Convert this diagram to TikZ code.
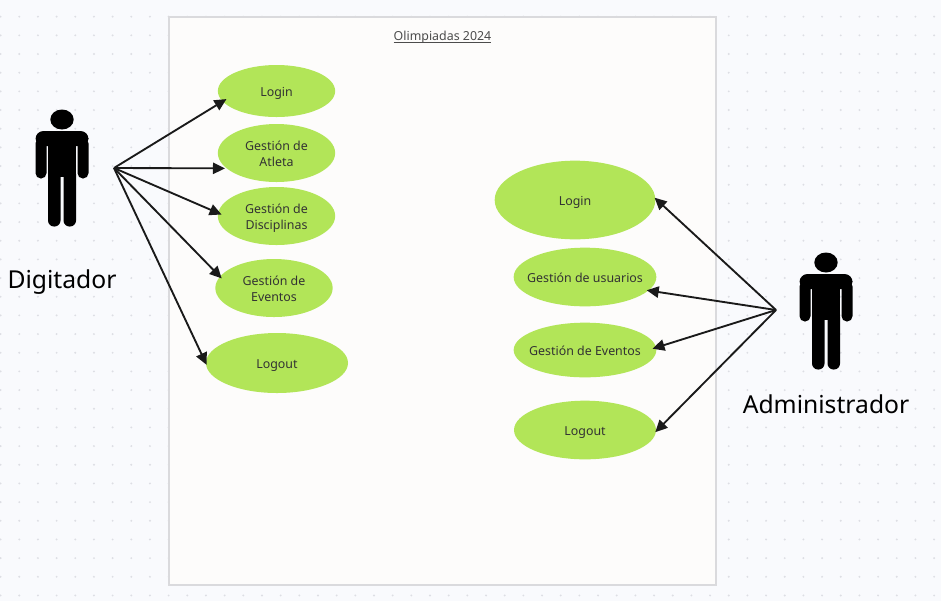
\documentclass[tikz,border=0pt]{standalone}
\usepackage{fontspec}
\setmainfont{Noto Sans}
\usetikzlibrary{shapes.geometric,arrows.meta}
\definecolor{fondo}{HTML}{F9FAFD}
\definecolor{punto}{HTML}{DDDEE4}
\definecolor{marco}{HTML}{DADADD}
\definecolor{papel}{HTML}{FDFCFB}
\definecolor{verde}{HTML}{B2E558}
\definecolor{linea}{HTML}{1A1A1A}

\tikzset{
	casoUso/.style =
	{shape = ellipse,
		fill = verde,
		inner ysep = 0pt,
		inner xsep = -10pt,
		align = center,
		text height = 8.5pt,
		text depth = 0pt,
		text = black!80,
		font = \fontsize{9.3pt}{12.4pt}\selectfont},
	casoDoble/.style = {casoUso, text height = 20.5pt},
	enlace/.style =
	{draw = linea,
		line width = 1.4pt,
		-{Triangle[length=9pt,width=8.5pt]}},
	rotulo/.style = {text depth = 0pt, font = \fontsize{18.5pt}{22pt}\selectfont},
	actor/.pic = {
		\fill[black] (0,-48.5) ellipse [x radius=11.7, y radius=10];
		\fill[black, rounded corners=6pt] (-26.5,-37) rectangle (26.5,-22);
		\fill[black, rounded corners=4pt] (-26.5,-30) rectangle (-15.5,10.5);
		\fill[black, rounded corners=4pt] (15.5,-30) rectangle (26.5,10.5);
		\fill[black] (-14,-37) rectangle (14,9);
		\fill[black, rounded corners=4.5pt] (-14,0) rectangle (-1.5,58.5);
		\fill[black, rounded corners=4.5pt] (1.5,0) rectangle (14,58.5);
	}
}

\begin{document}
\begin{tikzpicture}[x=0.75pt,y=-0.75pt]
\useasboundingbox (0,0) rectangle (941,601);
\fill[fondo] (0,0) rectangle (941,601);
% puntos del fondo
\foreach \i in {0,...,50}
	\foreach \j in {0,...,32}
		\fill[punto] (0.6+18.67*\i,-2+18.67*\j) circle (0.8pt);
\draw[marco, line width=1.5pt, fill=papel] (169,17) rectangle (716,585);
\node[text=black!70, font=\fontsize{9.3pt}{12pt}\selectfont] (titulo) at (442.5,42) {\underline{\smash{Olimpiadas 2024}}};

\pic at (62,168) {actor};
\pic at (826,311) {actor};
\node[rotulo] (digitador) at (62,279) {Digitador};
\node[rotulo] (administrador) at (826,404) {Administrador};
\coordinate (origenA) at (114,168);
\coordinate (origenB) at (776,310);

\node[casoUso, minimum width=88pt, minimum height=39pt] (login) at (276.5,91) {Login};
\node[casoDoble, minimum width=88pt, minimum height=43.5pt] (atleta) at (276.5,153) {Gestión de\\Atleta};
\node[casoDoble, minimum width=88pt, minimum height=43.5pt] (disciplinas) at (276.5,216) {Gestión de\\Disciplinas};
\node[casoDoble, minimum width=88pt, minimum height=43.5pt] (eventos) at (274,288) {Gestión de\\Eventos};
\node[casoUso, minimum width=106.5pt, minimum height=45pt] (logout) at (277,363) {Logout};

\node[casoUso, minimum width=120.5pt, minimum height=59pt] (loginB) at (575,200) {Login};
\node[casoUso, minimum width=107pt, minimum height=44pt] (usuariosB) at (585,277) {Gestión de usuarios};
\node[casoUso, minimum width=107pt, minimum height=41pt] (eventosB) at (585,350) {Gestión de Eventos};
\node[casoUso, minimum width=106.5pt, minimum height=44pt] (logoutB) at (585,430) {Logout};

\draw[enlace, shorten >=-3.5pt] (origenA) -- (login.191);
\draw[enlace, shorten >=1pt] (origenA) -- (atleta.197);
\draw[enlace, shorten >=-3pt] (origenA) -- (disciplinas.177);
\draw[enlace, shorten >=-2pt] (origenA) -- (eventos.168);
\draw[enlace, shorten >=-1.5pt] (origenA) -- (logout.180);

\draw[enlace, shorten >=-1pt] (origenB) -- (loginB.1);
\draw[enlace, shorten >=-1.5pt] (origenB) -- (usuariosB.-12);
\draw[enlace, shorten >=-3pt] (origenB) -- (eventosB.2);
\draw[enlace, shorten >=-1pt] (origenB) -- (logoutB.-1);
\end{tikzpicture}
\end{document}
